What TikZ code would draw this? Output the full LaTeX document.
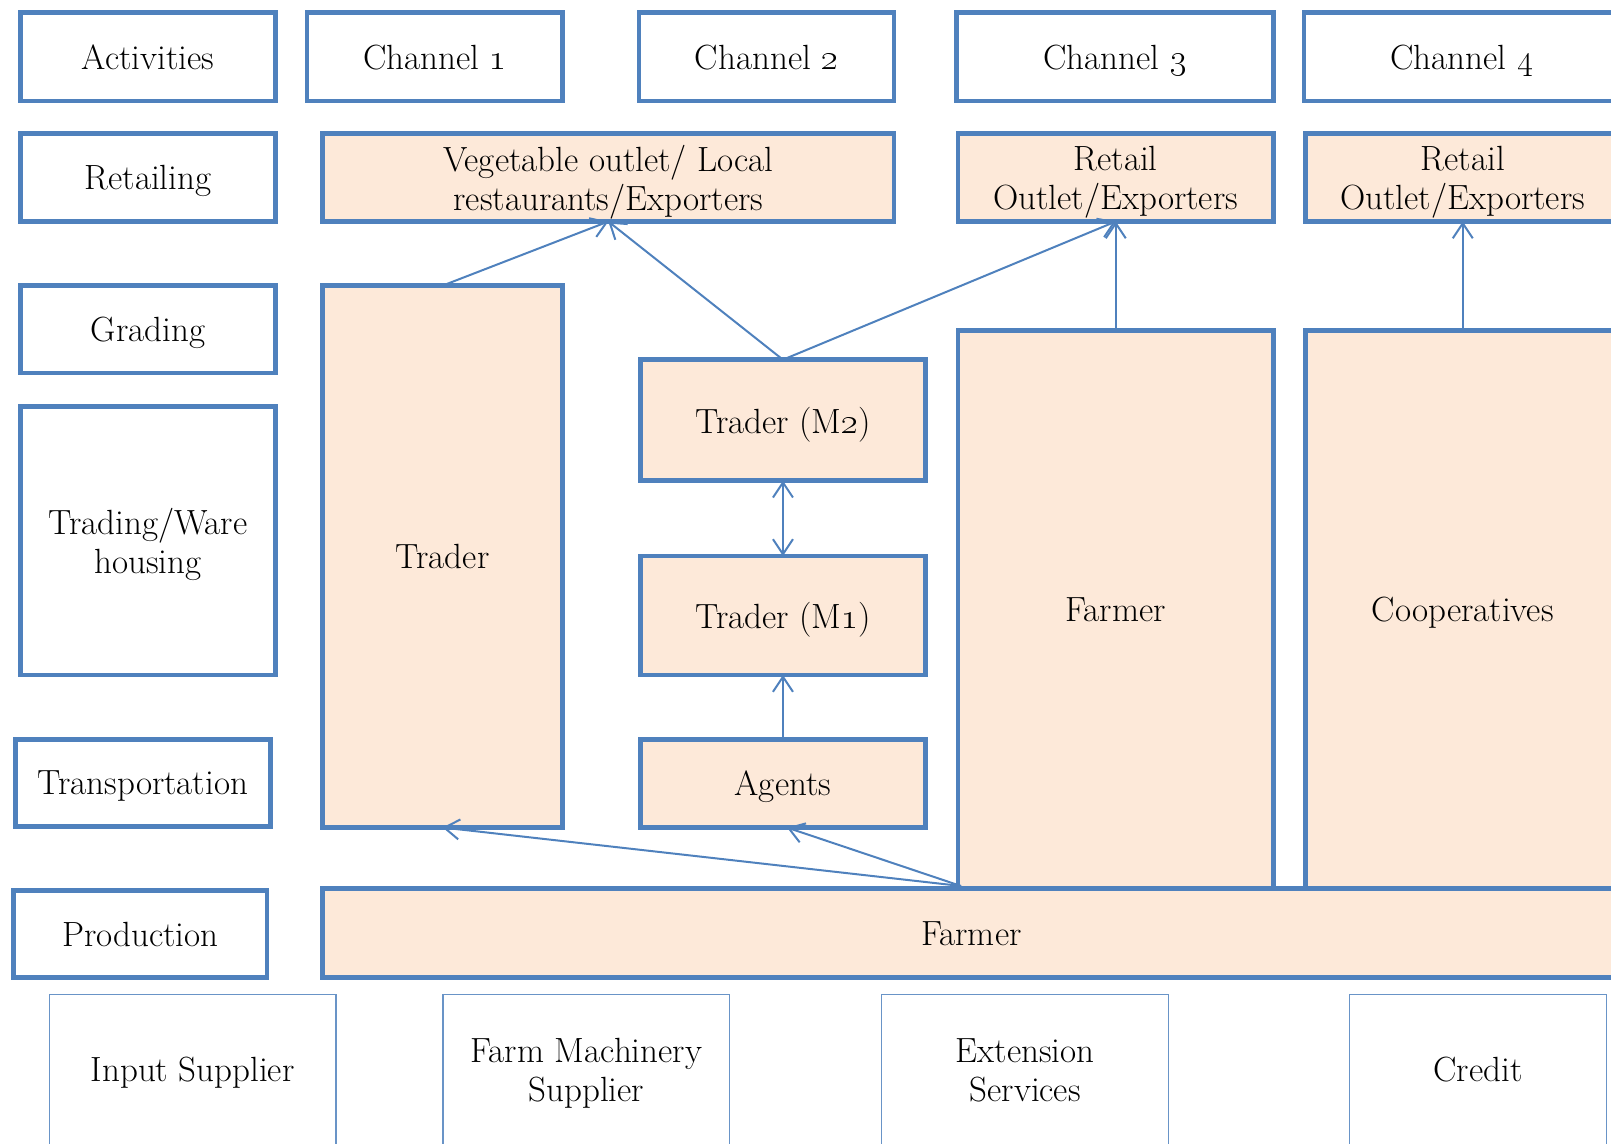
\RequirePackage{fix-cm}
\documentclass[tikz,border=0pt]{standalone}
\usetikzlibrary{arrows.meta}
\definecolor{boxblue}{HTML}{4F81BD}
\definecolor{peach}{HTML}{FDE9D9}
\newcommand\lbl{\fontsize{35}{39}\selectfont}
\newcommand\osn[1]{\oldstylenums{#1}}
% box by its corners: style, name, x1, y1, x2, y2, text
\newcommand\cell[7]{%
  \node[#1, minimum width={#5-#3}, minimum height={#6-#4}]
    (#2) at ({(#3+#5)/2},{(#4+#6)/2}) {#7};}
\begin{document}
\begin{tikzpicture}[x=1pt,y=-1pt,
  stage/.style={draw=boxblue, line width=4.5pt, fill=white, inner sep=0pt, outer sep=0pt,
                align=center, font=\lbl, text depth=0pt},
  actor/.style={stage, fill=peach},
  support/.style={draw=boxblue!85, line width=1.2pt, inner sep=0pt, outer sep=0pt,
                  align=center, font=\lbl, text depth=0pt},
  tip/.tip={Straight Barb[length=15pt,width=20pt]},
  flow/.style={draw=boxblue, line width=2pt, -tip},
  both/.style={flow, tip-tip}]
\useasboundingbox (0,0) rectangle (1611,1143);

% activity column
\cell{stage}{act}{20.4}{12.7}{275.5}{101}{Activities}
\cell{stage}{ret}{20.4}{133.5}{275.5}{221.5}{Retailing}
\cell{stage}{grad}{20.4}{285.6}{275.5}{373}{Grading}
\cell{stage}{trad}{20.4}{406.5}{275.5}{675}{Trading/Ware\\housing}
\cell{stage}{transp}{15.4}{739.5}{270.3}{826.5}{Transportation}
\cell{stage}{prod}{13.3}{890.5}{267.2}{977.5}{Production}

% channel headers
\cell{stage}{ch1}{307}{12.7}{562.5}{101}{Channel \osn{1}}
\cell{stage}{ch2}{639}{12.7}{894}{101}{Channel \osn{2}}
\cell{stage}{ch3}{956.5}{12.7}{1273.5}{101}{Channel \osn{3}}
\cell{stage}{ch4}{1304}{12.7}{1620}{101}{Channel \osn{4}}

% retail outlets
\cell{actor}{veg}{322.7}{133.5}{894}{221.5}{Vegetable outlet/ Local\\restaurants/Exporters}
\cell{actor}{r3}{958}{133.5}{1273.5}{221.5}{Retail\\Outlet/Exporters}
\cell{actor}{r4}{1305.5}{133.5}{1620}{221.5}{Retail\\Outlet/Exporters}

% intermediaries
\cell{actor}{trader}{322.7}{285.6}{562.5}{827.5}{Trader}
\cell{actor}{m2}{640.5}{359.7}{925.4}{480.7}{Trader (M\osn{2})}
\cell{actor}{m1}{640.5}{556}{925.4}{675}{Trader (M\osn{1})}
\cell{actor}{agents}{640.5}{739.5}{925.4}{827.5}{Agents}
\cell{actor}{farm3}{958}{330.5}{1273.5}{888.7}{Farmer}
\cell{actor}{coop}{1305.5}{330.5}{1620}{888.7}{Cooperatives}

% producers
\cell{actor}{farmer}{322.7}{888.7}{1620}{977.5}{Farmer}

% support services
\cell{support}{input}{49.3}{994.5}{336}{1145}{Input Supplier}
\cell{support}{mach}{443}{994.5}{729.7}{1145}{Farm Machinery\\Supplier}
\cell{support}{ext}{881.8}{994.5}{1168.5}{1145}{Extension\\Services}
\cell{support}{credit}{1349.4}{994.5}{1606.4}{1145}{Credit}

% product flows
\coordinate (src) at (961,886);
\draw[flow] (trader.north) -- (veg.south);
\draw[flow] (m2.north) -- (veg.south);
\draw[flow] (m2.north) -- (r3.south);
\draw[flow] (farm3.north) -- (r3.south);
\draw[flow] (coop.north) -- (r4.south);
\draw[both] (m1.north) -- (m2.south);
\draw[flow] (agents.north) -- (m1.south);
\draw[flow] (src) -- (trader.south);
\draw[flow] (src) -- ([xshift=4pt]agents.south);
\end{tikzpicture}
\end{document}
